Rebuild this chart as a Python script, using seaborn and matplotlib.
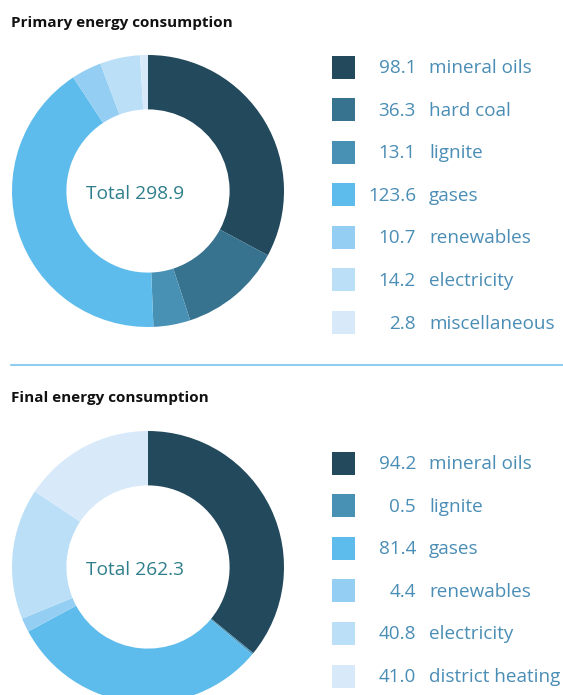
import matplotlib
matplotlib.use("Agg")
import matplotlib.pyplot as plt
import seaborn as sns
from matplotlib.patches import Rectangle

sns.set_theme(style="white")
plt.rcParams['font.family'] = ['Open Sans', 'DejaVu Sans']

# Data
primary_labels = ["mineral oils", "hard coal", "lignite", "gases", "renewables", "electricity", "miscellaneous"]
primary_values = [98.1, 36.3, 13.1, 123.6, 10.7, 14.2, 2.8]
primary_total = 298.9
primary_colors = ["#22495c", "#37728f", "#4891b5", "#5dbceb", "#94cef2", "#bbdff6", "#d8eafa"]

final_labels = ["mineral oils", "lignite", "gases", "renewables", "electricity", "district heating"]
final_values = [94.2, 0.5, 81.4, 4.4, 40.8, 41.0]
final_total = 262.3
final_colors = ["#22495c", "#4891b5", "#5dbceb", "#94cef2", "#bbdff6", "#d8eafa"]

W, H = 563, 695
fig = plt.figure(figsize=(W / 100, H / 100), dpi=100)
fig.patch.set_facecolor("white")

TEXT_BLUE = "#4a8db5"
TOTAL_COL = "#2e7f8b"


def fx(px):
    return px / W


def fy(py):
    return 1 - py / H


def donut(cx, cy, r, values, colors, total):
    ax = fig.add_axes([fx(cx - r), fy(cy + r), 2 * r / W, 2 * r / H])
    ax.pie(values, colors=colors, startangle=90, counterclock=False,
           wedgeprops=dict(width=0.4, edgecolor="none"), radius=1.0)
    ax.set_xlim(-1, 1)
    ax.set_ylim(-1, 1)
    ax.set_aspect("equal")
    ax.axis("off")
    ax.text(-0.095, -0.02, f"Total {total:.1f}", ha="center", va="center",
            fontsize=13.8, color=TOTAL_COL)


def legend(y0, labels, values, colors, dy=42.6):
    for i, (lab, val, col) in enumerate(zip(labels, values, colors)):
        y = y0 + i * dy
        fig.patches.append(Rectangle((fx(332), fy(y + 11.5)), 23 / W, 23 / H,
                                     transform=fig.transFigure, facecolor=col,
                                     edgecolor="none"))
        fig.text(fx(416), fy(y + 1), f"{val:.1f}", ha="right", va="center",
                 fontsize=13.6, color=TEXT_BLUE)
        fig.text(fx(429), fy(y + 1), lab, ha="left", va="center",
                 fontsize=13.6, color=TEXT_BLUE)


# Titles
fig.text(fx(11), fy(23), "Primary energy consumption", ha="left", va="center",
         fontsize=11, fontweight="bold", color="#111111")
fig.text(fx(11), fy(398), "Final energy consumption", ha="left", va="center",
         fontsize=11, fontweight="bold", color="#111111")

# Separator line
fig.add_artist(plt.Line2D([fx(11), fx(563)], [fy(365), fy(365)],
                          transform=fig.transFigure, color="#8fcdf0", lw=1.5))

donut(148, 191, 136, primary_values, primary_colors, primary_total)
legend(67, primary_labels, primary_values, primary_colors)

donut(148, 567, 136, final_values, final_colors, final_total)
legend(463, final_labels, final_values, final_colors)

fig.savefig("out.png", dpi=100, facecolor="white")
